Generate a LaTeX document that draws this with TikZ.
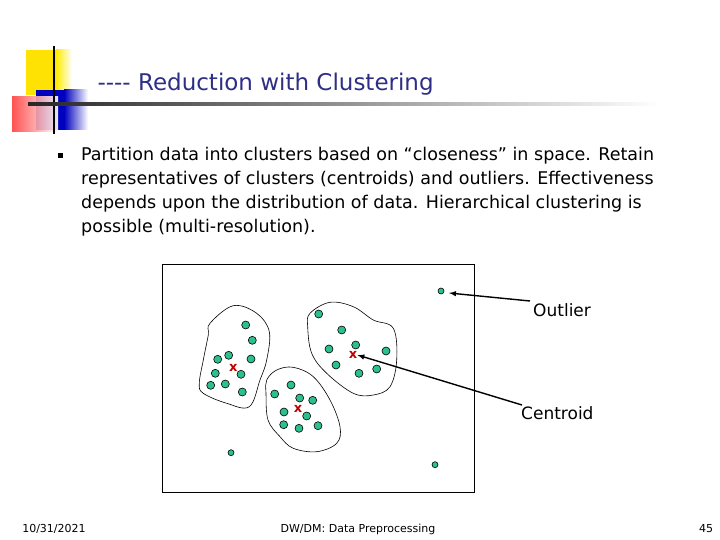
\documentclass[tikz,border=0pt]{standalone}
\usepackage{fontspec}
\setmainfont{DejaVu Sans}
\definecolor{dotc}{HTML}{2CC08F}
\definecolor{titlec}{HTML}{2E2E86}
\begin{document}
\begin{tikzpicture}[x=1pt,y=-1pt,
  pt/.style={circle,draw=black,fill=dotc,line width=0.6pt,inner sep=0pt,minimum size=8pt},
  spt/.style={pt,minimum size=6pt},
  cx/.style={text=red!75!black,font=\bfseries\fontsize{13}{13}\selectfont,inner sep=0pt},
  blob/.style={draw=black,line width=0.6pt},
  arr/.style={-latex,line width=1.4pt},
  lbl/.style={font=\fontsize{17}{17}\selectfont,inner sep=1pt}]
\useasboundingbox (0,0) rectangle (720,540);
% logo
\fill[yellow!85!orange] (26,50) rectangle (56,95);
\shade[left color=yellow!85!orange,right color=white] (56,50) rectangle (72,95);
\fill[blue!75!black] (36,90) rectangle (64,130);
\shade[left color=blue!75!black,right color=white] (64,90) rectangle (88,130);
\shade[left color=red!75,right color=white,opacity=0.9] (12,97) rectangle (58,132);
\draw[line width=2.5pt] (54,46) -- (54,134);
\shade[left color=black!85,right color=white] (28,102.5) rectangle (660,105.5);
\node[text=titlec,font=\fontsize{23}{23}\selectfont,anchor=west] (title) at (94,84) {{-}{-}{-}{-} Reduction with Clustering};
% bullet
\node[fill=black,minimum size=5pt,inner sep=0pt] (bul) at (60,156) {};
\node[anchor=north west,align=left,font=\fontsize{17.5}{24}\selectfont,inner sep=0pt] (body) at (81,147) {Partition data into clusters based on “closeness” in space. Retain\\representatives of clusters (centroids) and outliers. Effectiveness\\depends upon the distribution of data. Hierarchical clustering is\\possible (multi-resolution).};
% box
\draw[line width=1pt] (162,264) rectangle (474,492);
% blobs
\draw[blob] plot[smooth cycle,tension=0.6] coordinates {(210,323.3) (233.3,305.7) (256.7,313.3) (269.3,331.7) (266.7,360) (260,380) (249.3,406.7) (226.7,403.3) (203.3,393.3) (199.3,383.3) (203.3,360) (208.3,335)};
\draw[blob] plot[smooth cycle,tension=0.6] coordinates {(266.7,380) (276.7,370) (293.3,367.3) (313.3,376.7) (330,400) (340,426.7) (336.7,443.3) (316.7,451.7) (293.3,448.3) (280,436.7) (268,420) (266,393.3)};
\draw[blob] plot[smooth cycle,tension=0.6] coordinates {(310,313.3) (330,302.3) (353.3,306.7) (373.3,320) (393.3,328.3) (396.7,360) (390,386.7) (373.3,395) (353.3,393.3) (326.7,373.3) (311.7,353.3) (307.7,326.7)};
% cluster 1
\foreach \p in {(245.7,325),(252.3,340.3),(251,359),(228.7,355.3),(217.7,359.3),(215.3,373.3),(241,374.3),(210.7,385.3),(225.3,384),(242.3,392)} \node[pt] at \p {};
\node[cx] (c1) at (233.3,367.7) {x};
% cluster 2
\foreach \p in {(274.7,394),(291,385),(299.7,398),(312.7,400.3),(284,412),(306.7,416),(283.7,424.7),(299,428.3),(318,425.7)} \node[pt] at \p {};
\node[cx] (c2) at (298,409) {x};
% cluster 3
\foreach \p in {(318.7,314),(341.7,330),(329,349),(355.7,345),(386,351),(336,365),(359,373.3),(376.7,369)} \node[pt] at \p {};
\node[cx] (c3) at (353,355) {x};
% outliers
\node[spt] (o1) at (441,291) {};
\node[spt] (o2) at (231,452.7) {};
\node[spt] (o3) at (435,464.7) {};
% labels
\node[lbl,anchor=west] (lo) at (532,310) {Outlier};
\node[lbl,anchor=west] (lc) at (520,413) {Centroid};
\coordinate (ao) at (530,301);
\coordinate (ac) at (522,405);
\draw[arr] (ao) -- (449,293);
\draw[arr] (ac) -- (c3.east);
% footer
\node[font=\fontsize{11}{11}\selectfont] (f1) at (54,529) {10/31/2021};
\node[font=\fontsize{11}{11}\selectfont] (f2) at (358,529) {DW/DM: Data Preprocessing};
\node[font=\fontsize{11}{11}\selectfont] (f3) at (706,529) {45};
\end{tikzpicture}
\end{document}
